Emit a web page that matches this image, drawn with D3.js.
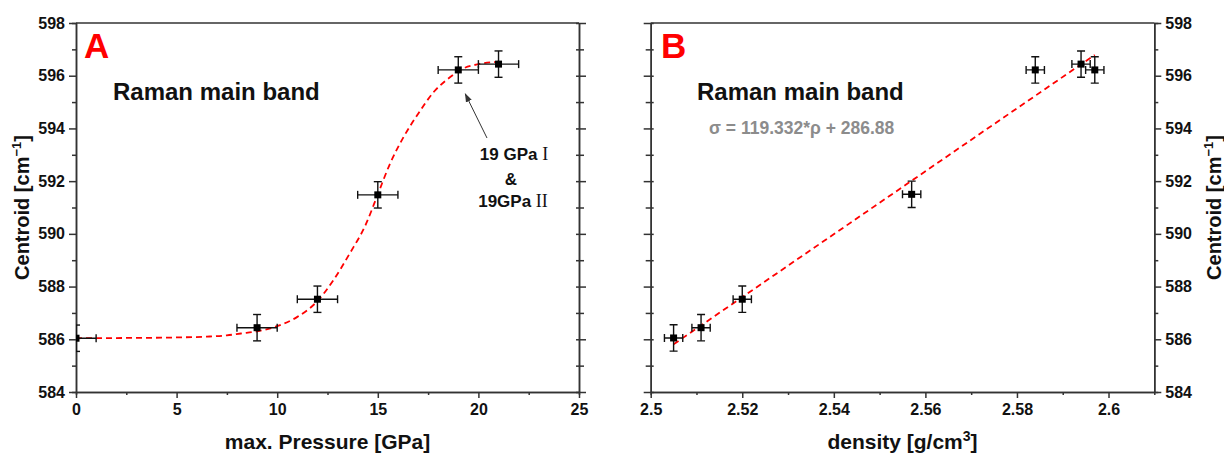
<!DOCTYPE html>
<html>
<head>
<meta charset="utf-8">
<script src="https://cdn.jsdelivr.net/npm/d3@7"></script>
<style>
  body { margin: 0; background: #fff; }
  svg { font-family: "Liberation Sans", Arial, sans-serif; font-weight: bold; }
  .axis path, .axis line { stroke: #333; stroke-width: 1.5; }
  .axis text { font-size: 16px; font-weight: bold; fill: #111; font-family: "Liberation Sans", Arial, sans-serif; }
</style>
</head>
<body>
<svg width="1224" height="457"></svg>
<script>
// ---- data ----
var pressure    = [0, 9, 12, 15, 19, 21];
var centroidA   = [586.04, 586.44, 587.52, 591.48, 596.22, 596.44];
var pressureErr = [1, 1, 1, 1, 1, 1];
var centroidErrA = [0.5, 0.5, 0.5, 0.5, 0.5, 0.5];

var density     = [2.505, 2.511, 2.520, 2.557, 2.584, 2.594, 2.597];
var centroidB   = [586.05, 586.44, 587.52, 591.50, 596.22, 596.44, 596.22];
var densityErr  = [0.002, 0.002, 0.002, 0.002, 0.002, 0.002, 0.002];
var centroidErrB = [0.5, 0.5, 0.5, 0.5, 0.5, 0.5, 0.5];

// red dashed fit in A (traced)
var fitPressure = [0, 2.5, 5, 6.5, 7.5, 8.2, 9, 10, 11, 12, 12.8, 13.6, 14.4, 15, 15.6, 16.3, 17, 17.8, 18.6, 19.1, 20, 21];
var fitCentroid = [586.04, 586.05, 586.07, 586.1, 586.15, 586.22, 586.3, 586.5, 586.85, 587.45, 588.25, 589.25, 590.35, 591.5, 592.65, 593.7, 594.55, 595.4, 595.95, 596.22, 596.44, 596.53];
// red dashed linear fit in B
var linDensity  = [2.505, 2.597];
var linCentroid = [585.81, 596.79];

var centroidTicks = [584, 586, 588, 590, 592, 594, 596, 598];
var pressureTicks = [0, 5, 10, 15, 20, 25];
var densityTicks  = [2.5, 2.52, 2.54, 2.56, 2.58, 2.6];

var svg = d3.select("svg");
var top0 = 23, bottom0 = 392;

var y = d3.scaleLinear().domain([584, 598]).range([bottom0, top0]);
var xA = d3.scaleLinear().domain([0, 25]).range([76, 579]);
var xB = d3.scaleLinear().domain([2.5, 2.61]).range([650.7, 1154.3]);

var defs = svg.append("defs");
defs.append("marker").attr("id", "arrow")
	.attr("viewBox", "0 0 10 10").attr("refX", 9).attr("refY", 5)
	.attr("markerWidth", 9).attr("markerHeight", 9).attr("markerUnits", "userSpaceOnUse")
	.attr("orient", "auto")
	.append("path").attr("d", "M0,1.5 L10,5 L0,8.5 Z").attr("fill", "#333");

function panel(id, x, xs, ys, xe, ye, fx, fy, curve, xTicks, xMinor, yLeftLabels) {
	var g = svg.append("g");
	var x0 = x.range()[0], x1 = x.range()[1];

	defs.append("clipPath").attr("id", "clip" + id)
		.append("rect").attr("x", x0).attr("y", top0).attr("width", x1 - x0).attr("height", bottom0 - top0);

	// frame top
	g.append("line").attr("x1", x0).attr("x2", x1).attr("y1", top0).attr("y2", top0)
		.attr("stroke", "#333").attr("stroke-width", 1.5);

	// bottom axis
	g.append("g").attr("class", "axis").attr("transform", "translate(0," + bottom0 + ")")
		.call(d3.axisBottom(x).tickValues(xMinor).tickSize(3).tickFormat(""));
	g.append("g").attr("class", "axis").attr("transform", "translate(0," + bottom0 + ")")
		.call(d3.axisBottom(x).tickValues(xTicks).tickSize(6).tickSizeOuter(0).tickPadding(6).tickFormat(String));

	var yMinor = d3.range(585, 598, 2);
	var labelledX = yLeftLabels ? x0 : x1;
	var plainX = yLeftLabels ? x1 : x0;
	var axL = yLeftLabels ? d3.axisLeft : d3.axisRight;
	var axP = yLeftLabels ? d3.axisRight : d3.axisLeft;

	g.append("g").attr("class", "axis").attr("transform", "translate(" + labelledX + ",0)")
		.call(axL(y).tickValues(yMinor).tickSize(4).tickFormat(""));
	g.append("g").attr("class", "axis").attr("transform", "translate(" + labelledX + ",0)")
		.call(axL(y).tickValues(centroidTicks).tickSize(7).tickSizeOuter(0).tickPadding(4).tickFormat(String));

	// mirrored side: ticks pointing outward and a little inward
	var sgn = yLeftLabels ? 1 : -1;
	var pm = g.append("g").attr("class", "axis").attr("transform", "translate(" + plainX + ",0)")
		.call(axP(y).tickValues(centroidTicks).tickSize(7).tickSizeOuter(0).tickFormat(""));
	pm.selectAll(".tick line").attr("x1", -3 * sgn);
	var pn = g.append("g").attr("class", "axis").attr("transform", "translate(" + plainX + ",0)")
		.call(axP(y).tickValues(yMinor).tickSize(5).tickSizeOuter(0).tickFormat(""));
	pn.selectAll(".tick line").attr("x1", -3 * sgn);

	var plot = g.append("g").attr("clip-path", "url(#clip" + id + ")");

	// fit line
	plot.append("path")
		.datum(d3.range(fx.length))
		.attr("fill", "none").attr("stroke", "#ff0000").attr("stroke-width", 1.8)
		.attr("stroke-dasharray", "6,4")
		.attr("d", d3.line().curve(curve)
			.x(function(i) { return x(fx[i]); })
			.y(function(i) { return y(fy[i]); }));

	var pts = plot.selectAll("g.pt").data(d3.range(xs.length)).enter().append("g").attr("class", "pt");
	pts.append("line")
		.attr("x1", function(i) { return x(xs[i] - xe[i]); })
		.attr("x2", function(i) { return x(xs[i] + xe[i]); })
		.attr("y1", function(i) { return y(ys[i]); })
		.attr("y2", function(i) { return y(ys[i]); });
	pts.append("line")
		.attr("x1", function(i) { return x(xs[i]); })
		.attr("x2", function(i) { return x(xs[i]); })
		.attr("y1", function(i) { return y(ys[i] - ye[i]); })
		.attr("y2", function(i) { return y(ys[i] + ye[i]); });
	// caps
	[-1, 1].forEach(function(s) {
		pts.append("line")
			.attr("x1", function(i) { return x(xs[i] + s * xe[i]); })
			.attr("x2", function(i) { return x(xs[i] + s * xe[i]); })
			.attr("y1", function(i) { return y(ys[i]) - 4; })
			.attr("y2", function(i) { return y(ys[i]) + 4; });
		pts.append("line")
			.attr("x1", function(i) { return x(xs[i]) - 4; })
			.attr("x2", function(i) { return x(xs[i]) + 4; })
			.attr("y1", function(i) { return y(ys[i] + s * ye[i]); })
			.attr("y2", function(i) { return y(ys[i] + s * ye[i]); });
	});
	pts.selectAll("line").attr("stroke", "#111").attr("stroke-width", 1.4);
	pts.append("rect")
		.attr("x", function(i) { return x(xs[i]) - 3.5; })
		.attr("y", function(i) { return y(ys[i]) - 3.5; })
		.attr("width", 7).attr("height", 7).attr("fill", "#000");

	return g;
}

var gA = panel("A", xA, pressure, centroidA, pressureErr, centroidErrA, fitPressure, fitCentroid,
	d3.curveMonotoneX, pressureTicks, d3.range(2.5, 25, 5), true);
var gB = panel("B", xB, density, centroidB, densityErr, centroidErrB, linDensity, linCentroid,
	d3.curveLinear, densityTicks, [2.51, 2.53, 2.55, 2.57, 2.59], false);

// ---- texts panel A ----
gA.append("text").attr("x", 84).attr("y", 58).attr("fill", "#ff0000")
	.style("font-size", "35px").text("A");
gA.append("text").attr("x", 113).attr("y", 100).attr("fill", "#111")
	.style("font-size", "24px").text("Raman main band");

// annotation arrow to 19 GPa point
gA.append("line").attr("x1", 487).attr("y1", 138).attr("x2", xA(19) + 7).attr("y2", y(596.22) + 24)
	.attr("stroke", "#333").attr("stroke-width", 1).attr("marker-end", "url(#arrow)");
var ann = gA.append("text").attr("text-anchor", "middle").attr("fill", "#111").style("font-size", "17px");
var l1 = ann.append("tspan").attr("x", 514).attr("y", 160);
l1.append("tspan").text("19 GPa ");
l1.append("tspan").style("font-family", "'Liberation Serif', 'Times New Roman', serif").style("font-weight", "normal").style("font-size", "18px").text("I");
ann.append("tspan").attr("x", 511).attr("y", 185).text("&");
var l3 = ann.append("tspan").attr("x", 513).attr("y", 207);
l3.append("tspan").text("19GPa ");
l3.append("tspan").style("font-family", "'Liberation Serif', 'Times New Roman', serif").style("font-weight", "normal").style("font-size", "18px").text("II");

// ---- texts panel B ----
gB.append("text").attr("x", 661).attr("y", 58).attr("fill", "#ff0000")
	.style("font-size", "35px").text("B");
gB.append("text").attr("x", 697).attr("y", 100).attr("fill", "#111")
	.style("font-size", "24px").text("Raman main band");
gB.append("text").attr("x", 709).attr("y", 134).attr("fill", "#8c8c8c")
	.style("font-size", "17.5px").text("σ = 119.332*ρ + 286.88");

// ---- axis titles ----
function yTitle(cx) {
	var t = svg.append("text").attr("transform", "translate(" + cx + "," + ((top0 + bottom0) / 2) + ") rotate(-90)")
		.attr("text-anchor", "middle").attr("fill", "#111").style("font-size", "20px");
	t.append("tspan").text("Centroid [cm");
	t.append("tspan").attr("dy", -8).style("font-size", "13px").text("−1");
	t.append("tspan").attr("dy", 8).text("]");
}
yTitle(29);
yTitle(1221);

svg.append("text").attr("x", (xA.range()[0] + xA.range()[1]) / 2).attr("y", 449)
	.attr("text-anchor", "middle").attr("fill", "#111").style("font-size", "21px")
	.text("max. Pressure [GPa]");
var tb = svg.append("text").attr("x", (xB.range()[0] + xB.range()[1]) / 2).attr("y", 449)
	.attr("text-anchor", "middle").attr("fill", "#111").style("font-size", "21px");
tb.append("tspan").text("density [g/cm");
tb.append("tspan").attr("dy", -8).style("font-size", "14px").text("3");
tb.append("tspan").attr("dy", 8).text("]");
</script>
</body>
</html>
